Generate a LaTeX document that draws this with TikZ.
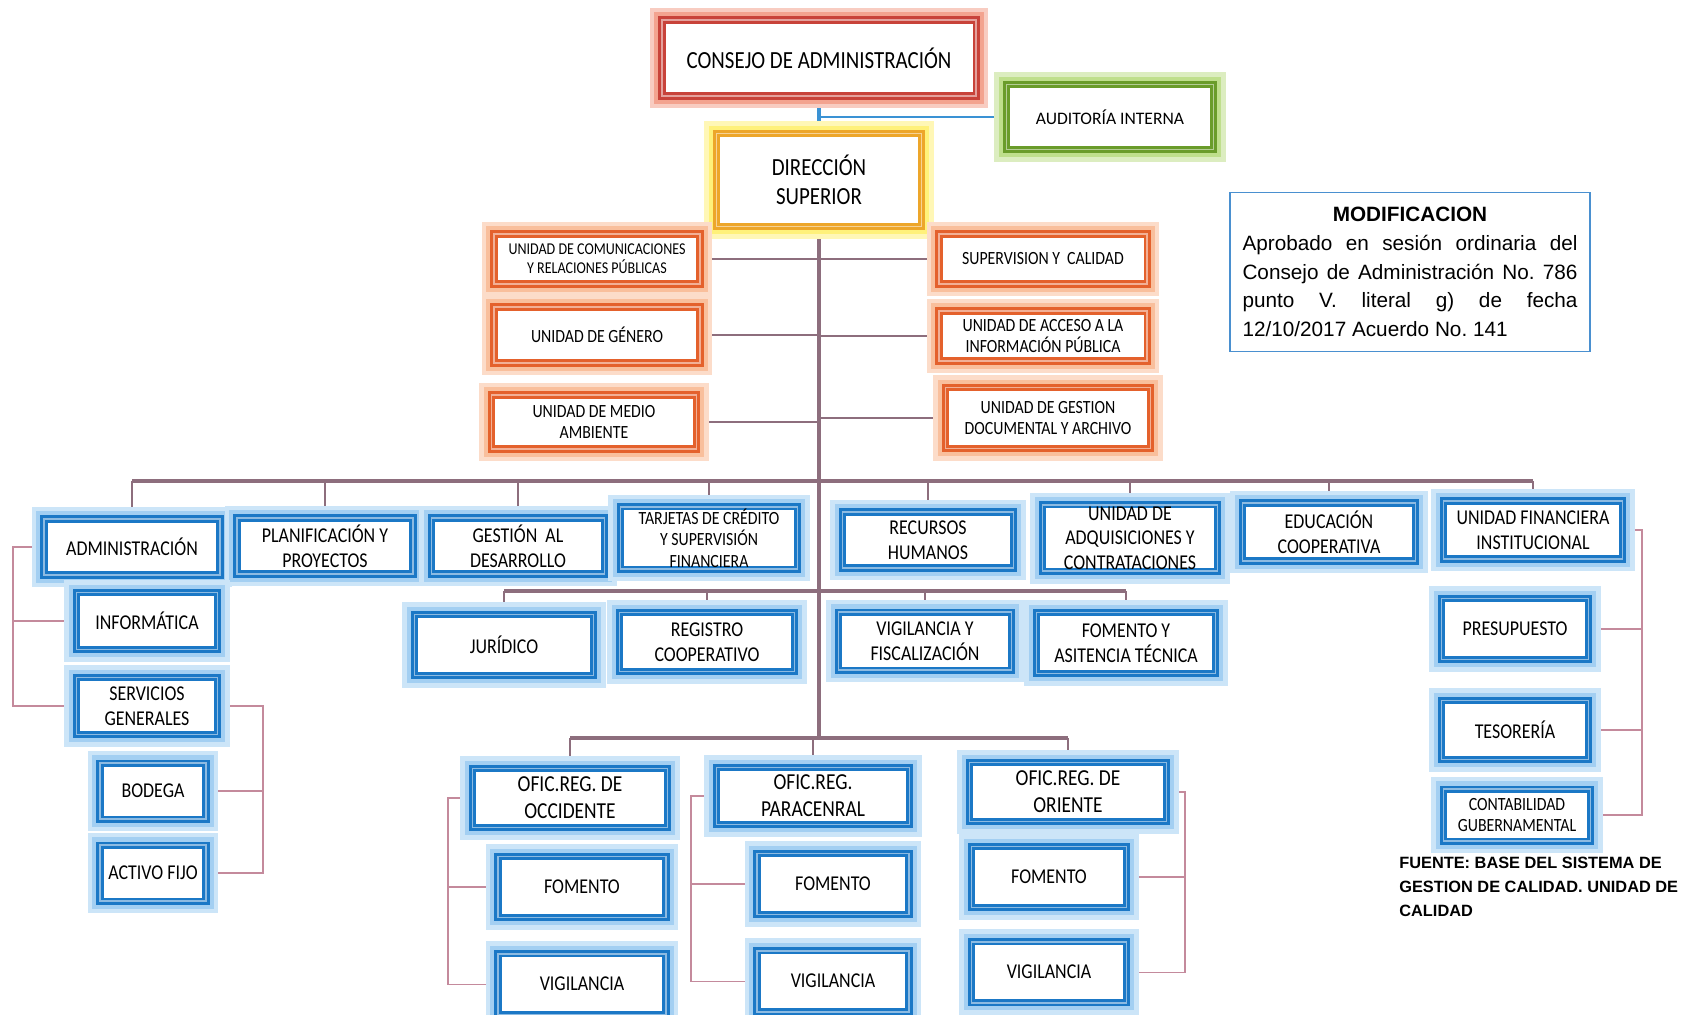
\documentclass[tikz,border=0pt]{standalone}
\usepackage{fontspec}
\setmainfont{Carlito}
\newfontfamily\boxfont[FakeStretch=0.85]{Carlito}
\newfontfamily\notefont{Liberation Sans}
\usetikzlibrary{positioning,backgrounds}

\definecolor{cblue}{HTML}{1B78C6}
\definecolor{cblueglow}{HTML}{A3CFF2}
\definecolor{corange}{HTML}{E4612C}
\definecolor{corangeglow}{HTML}{F9BF9C}
\definecolor{cred}{HTML}{C8433A}
\definecolor{credglow}{HTML}{F3A38F}
\definecolor{cgreen}{HTML}{6A9C2A}
\definecolor{cgreenglow}{HTML}{BFDF8C}
\definecolor{cyellow}{HTML}{EDA62A}
\definecolor{cyellowglow}{HTML}{FFF17A}
\definecolor{ctrunk}{HTML}{8D6E7D}
\definecolor{cthin}{HTML}{C48A9C}
\definecolor{clink}{HTML}{3A92D4}
\definecolor{cnote}{HTML}{4A90D0}

\newcommand{\fbig}{\boxfont\fontsize{14}{16.5}\selectfont}
\newcommand{\fofic}{\boxfont\fontsize{13}{15.2}\selectfont}
\newcommand{\fmid}{\boxfont\fontsize{12}{14}\selectfont}
\newcommand{\fsm}{\boxfont\fontsize{10.6}{12.2}\selectfont}
\newcommand{\ftiny}{\boxfont\fontsize{9.4}{11}\selectfont}

\begin{document}
\begin{tikzpicture}[x=0.2mm, y=-0.2mm,
  box/.style 2 args={draw=#1, line width=4pt, fill=white, align=center, inner sep=1pt,
    preaction={draw=#2!55!white, line width=14pt},
    preaction={draw=#2, line width=9pt},
    postaction={draw=#1!50!white, line width=1.1pt}},
  sz/.style 2 args={minimum width=#1*0.2mm, minimum height=#2*0.2mm},
  bl/.style={box={cblue}{cblueglow}, font=\fmid},
  org/.style={box={corange}{corangeglow}, font=\fsm},
  trunk/.style={draw=ctrunk, line width=2.2pt},
  bar/.style={draw=ctrunk, line width=2.8pt},
  tick/.style={draw=ctrunk, line width=0.6pt},
  brk/.style={draw=cthin, line width=0.6pt},
  note/.style={draw=cnote, line width=0.7pt, text width=67mm, align=justify,
    inner xsep=2.5mm, inner ysep=1.2mm, minimum height=31.8mm,
    font=\notefont\fontsize{11.8}{16.4}\selectfont}]
\useasboundingbox (0,0) rectangle (1681,1014);

%% direccion
\node[box={cred}{credglow}, sz={314}{76}, font=\fbig] (consejo) at (819,58) {CONSEJO DE ADMINISTRACIÓN};
\node[box={cgreen}{cgreenglow}, sz={207}{65}] (aud) at (1110,117) {AUDITORÍA INTERNA};
\node[box={cyellow}{cyellowglow}, sz={205}{93}, font=\fbig] (direccion) at (819,180) {DIRECCIÓN\\SUPERIOR};

%% unidades staff
\node[org, sz={206}{50}, font=\ftiny] (comunic) at (597,259) {UNIDAD DE COMUNICACIONES\\Y RELACIONES PÚBLICAS};
\node[org, sz={206}{56}] (genero) at (597,335) {UNIDAD DE GÉNERO};
\node[org, sz={205}{54}] (medio) at (594,422) {UNIDAD DE MEDIO\\AMBIENTE};
\node[org, sz={208}{50}] (superv) at (1043,259) {SUPERVISION Y~~CALIDAD};
\node[org, sz={208}{50}] (acceso) at (1043,336) {UNIDAD DE ACCESO A LA\\INFORMACIÓN PÚBLICA};
\node[org, sz={205}{61}] (gestdoc) at (1048,418) {UNIDAD DE GESTION\\DOCUMENTAL Y ARCHIVO};

%% gerencias
\node[bl, sz={176}{56}] (admin) at (132,547) {ADMINISTRACIÓN};
\node[bl, sz={176}{56}] (planif) at (325,546) {PLANIFICACIÓN Y\\PROYECTOS};
\node[bl, sz={173}{56}] (gestdes) at (518,546) {GESTIÓN~~AL\\DESARROLLO};
\node[bl, sz={177}{56}, font=\fsm] (tarjetas) at (709,538) {TARJETAS DE CRÉDITO\\Y SUPERVISIÓN\\FINANCIERA};
\node[bl, sz={171}{56}] (rrhh) at (928,540) {RECURSOS\\HUMANOS};
\node[bl, sz={175}{56}] (adquis) at (1130,538) {UNIDAD DE\\ADQUISICIONES Y\\CONTRATACIONES};
\node[bl, sz={173}{58}] (educ) at (1329,532) {EDUCACIÓN\\COOPERATIVA};
\node[bl, sz={179}{58}] (ufi) at (1533,530) {UNIDAD FINANCIERA\\INSTITUCIONAL};

\node[bl, sz={179}{61}] (juridico) at (504,645) {JURÍDICO};
\node[bl, sz={175}{59}] (registro) at (707,642) {REGISTRO\\COOPERATIVO};
\node[bl, sz={173}{58}] (vigfis) at (925,641) {VIGILANCIA Y\\FISCALIZACIÓN};
\node[bl, sz={179}{61}] (fomasit) at (1126,643) {FOMENTO Y\\ASITENCIA TÉCNICA};

%% administracion
\node[bl, sz={141}{57}] (inform) at (147,621) {INFORMÁTICA};
\node[bl, sz={141}{57}] (servgen) at (147,706) {SERVICIOS\\GENERALES};
\node[bl, sz={106}{56}] (bodega) at (153,791) {BODEGA};
\node[bl, sz={106}{56}] (activo) at (153,873) {ACTIVO FIJO};

%% unidad financiera
\node[bl, sz={147}{61}] (presup) at (1515,629) {PRESUPUESTO};
\node[bl, sz={147}{59}] (tesor) at (1515,730) {TESORERÍA};
\node[bl, sz={147}{52}, font=\fsm] (contab) at (1517,815) {CONTABILIDAD\\GUBERNAMENTAL};

%% oficinas regionales
\node[bl, sz={195}{59}, font=\fofic] (ofocc) at (570,798) {OFIC.REG. DE\\OCCIDENTE};
\node[bl, sz={193}{57}, font=\fofic] (ofpar) at (813,796) {OFIC.REG.\\PARACENRAL};
\node[bl, sz={197}{59}, font=\fofic] (ofori) at (1068,792) {OFIC.REG. DE\\ORIENTE};
\node[bl, sz={168}{61}] (fom1) at (582,887) {FOMENTO};
\node[bl, sz={168}{61}] (vig1) [below=5.8mm of fom1] {VIGILANCIA};
\node[bl, sz={152}{61}] (fom2) at (833,884) {FOMENTO};
\node[bl, sz={152}{61}] (vig2) [below=5.8mm of fom2] {VIGILANCIA};
\node[bl, sz={155}{61}] (fom3) at (1049,877) {FOMENTO};
\node[bl, sz={155}{61}] (vig3) [below=5.4mm of fom3] {VIGILANCIA};

%% notas
\node[note] (modif) at (1410,272) {\noindent\makebox[\linewidth]{\bfseries MODIFICACION}\par
  \noindent Aprobado en sesión ordinaria del\linebreak
  Consejo de Administración No.~786\linebreak punto V. literal g) de fecha\linebreak 12/10/2017 Acuerdo No.~141};
\node[anchor=north west, align=left, inner sep=0pt, font=\notefont\bfseries\fontsize{9.3}{13.7}\selectfont]
  (fuente) at (1399,857) {FUENTE: BASE DEL SISTEMA DE\\GESTION DE CALIDAD. UNIDAD DE\\CALIDAD};

\begin{scope}[on background layer]
  \coordinate (b2) at (819,481);
  \coordinate (b3) at (819,591);
  \coordinate (b4) at (819,738);
  \draw[draw=clink, line width=2pt] (consejo.south) -- (direccion.north);
  \draw[draw=clink, line width=0.7pt] (aud.west) -- (aud.west -| b2);
  \draw[trunk] (direccion.south) -- (b4);
  \foreach \n in {comunic,genero,medio}
    \draw[tick] (\n.east) -- (\n.east -| b2);
  \foreach \n in {superv,acceso,gestdoc}
    \draw[tick] (\n.west) -- (\n.west -| b2);
  \draw[bar] (admin.north |- b2) -- (ufi.north |- b2);
  \foreach \n in {admin,planif,gestdes,tarjetas,rrhh,adquis,educ,ufi}
    \draw[tick] (\n.north) -- (\n.north |- b2);
  \draw[bar] (juridico.north |- b3) -- (fomasit.north |- b3);
  \foreach \n in {juridico,registro,vigfis,fomasit}
    \draw[tick] (\n.north) -- (\n.north |- b3);
  \draw[bar] (ofocc.north |- b4) -- (ofori.north |- b4);
  \foreach \n in {ofocc,ofpar,ofori}
    \draw[tick] (\n.north) -- (\n.north |- b4);
  %% llaves laterales
  \coordinate (la) at (13,0);
  \coordinate (sr) at (263,0);
  \coordinate (ur) at (1642,0);
  \coordinate (ol) at (448,0);
  \coordinate (pl) at (691,0);
  \coordinate (orr) at (1185,0);
  \draw[brk] (admin.west) -- (admin.west -| la) |- (servgen.west);
  \draw[brk] (inform.west) -- (inform.west -| la);
  \draw[brk] (servgen.east) -- (servgen.east -| sr) |- (activo.east);
  \draw[brk] (bodega.east) -- (bodega.east -| sr);
  \draw[brk] (ufi.east) -- (ufi.east -| ur) |- (contab.east);
  \draw[brk] (presup.east) -- (presup.east -| ur);
  \draw[brk] (tesor.east) -- (tesor.east -| ur);
  \draw[brk] (ofocc.west) -- (ofocc.west -| ol) |- (vig1.west);
  \draw[brk] (fom1.west) -- (fom1.west -| ol);
  \draw[brk] (ofpar.west) -- (ofpar.west -| pl) |- (vig2.west);
  \draw[brk] (fom2.west) -- (fom2.west -| pl);
  \draw[brk] (ofori.east) -- (ofori.east -| orr) |- (vig3.east);
  \draw[brk] (fom3.east) -- (fom3.east -| orr);
\end{scope}
\end{tikzpicture}
\end{document}
